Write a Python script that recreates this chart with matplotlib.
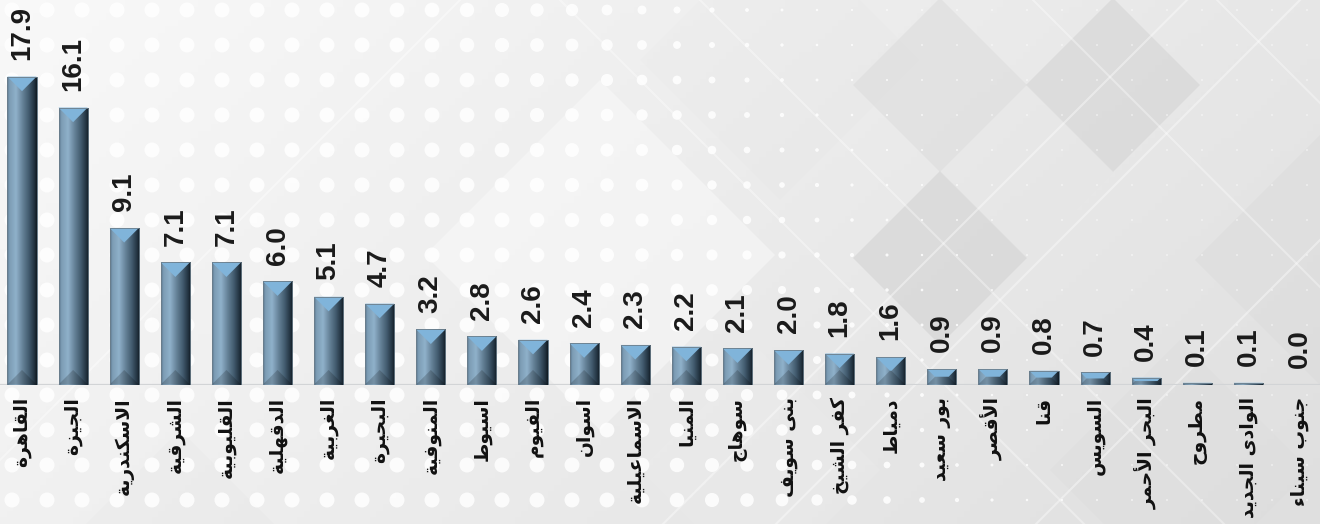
import numpy as np
import matplotlib
matplotlib.use("Agg")
import matplotlib.pyplot as plt
from matplotlib.colors import LinearSegmentedColormap
from matplotlib.patches import Polygon

# Egyptian governorates and their values
governorates = ["القاهرة", "الجيزة", "الاسكندرية", "الشرقية", "القليوبية", "الدقهلية",
                "الغربية", "البحيرة", "المنوفية", "اسيوط", "الفيوم", "اسوان",
                "الاسماعيلية", "المنيا", "سوهاج", "بنى سويف", "كفر الشيخ", "دمياط",
                "بور سعيد", "الأقصر", "قنا", "السويس", "البحر الأحمر", "مطروح",
                "الوادى الجديد", "جنوب سيناء"]
values = [17.9, 16.1, 9.1, 7.1, 7.1, 6.0, 5.1, 4.7, 3.2, 2.8, 2.6, 2.4, 2.3,
          2.2, 2.1, 2.0, 1.8, 1.6, 0.9, 0.9, 0.8, 0.7, 0.4, 0.1, 0.1, 0.0]

# --- small Arabic shaper: contextual forms + right-to-left order ---
BASE = {'ء': 0xFE80, 'آ': 0xFE81, 'أ': 0xFE83, 'ؤ': 0xFE85, 'إ': 0xFE87, 'ئ': 0xFE89,
        'ا': 0xFE8D, 'ب': 0xFE8F, 'ة': 0xFE93, 'ت': 0xFE95, 'ث': 0xFE99, 'ج': 0xFE9D,
        'ح': 0xFEA1, 'خ': 0xFEA5, 'د': 0xFEA9, 'ذ': 0xFEAB, 'ر': 0xFEAD, 'ز': 0xFEAF,
        'س': 0xFEB1, 'ش': 0xFEB5, 'ص': 0xFEB9, 'ض': 0xFEBD, 'ط': 0xFEC1, 'ظ': 0xFEC5,
        'ع': 0xFEC9, 'غ': 0xFECD, 'ف': 0xFED1, 'ق': 0xFED5, 'ك': 0xFED9, 'ل': 0xFEDD,
        'م': 0xFEE1, 'ن': 0xFEE5, 'ه': 0xFEE9, 'و': 0xFEED, 'ى': 0xFEEF, 'ي': 0xFEF1}
DUAL = set('ئبتثجحخسشصضطظعغفقكلمنهي')
RIGHT = set('آأؤإاةدذرزوى')
LAM_ALEF = {'ا': 0xFEFB, 'أ': 0xFEF7, 'إ': 0xFEF9, 'آ': 0xFEF5}


def shape(text):
    units = []
    i = 0
    while i < len(text):
        c = text[i]
        if c == 'ل' and i + 1 < len(text) and text[i + 1] in LAM_ALEF:
            units.append(('lig', text[i + 1]))
            i += 2
        else:
            units.append(('ch', c))
            i += 1

    def dual(u):
        return u[0] == 'ch' and u[1] in DUAL

    def joins(u):
        return u[0] == 'lig' or u[1] in DUAL or u[1] in RIGHT

    out = []
    for k, u in enumerate(units):
        prev = k > 0 and dual(units[k - 1])
        nxt = k + 1 < len(units) and dual(u) and joins(units[k + 1])
        if u[0] == 'lig':
            out.append(chr(LAM_ALEF[u[1]] + (1 if prev else 0)))
        elif u[1] in BASE:
            if u[1] in DUAL:
                form = 3 if (prev and nxt) else 1 if prev else 2 if nxt else 0
            elif u[1] in RIGHT:
                form = 1 if prev else 0
            else:
                form = 0
            out.append(chr(BASE[u[1]] + form))
        else:
            out.append(u[1])
    return ''.join(reversed(out))


W, H = 1320, 524
fig = plt.figure(figsize=(W / 100, H / 100), dpi=100)

# --- background: soft gray gradient, diamonds, diagonal lines, dot grid ---
bg = fig.add_axes([0, 0, 1, 1], zorder=0)
bg.set_xlim(0, W)
bg.set_ylim(H, 0)
bg.axis('off')
gx, gy = np.meshgrid(np.linspace(0, 1, 200), np.linspace(0, 1, 80))
shade = 0.975 - 0.07 * gx - 0.03 * gy
bg.imshow(np.dstack([shade, shade, shade]), extent=(0, W, H, 0), aspect='auto', zorder=0)

diamonds = [  # (cx, cy, half diagonal, gray, alpha)
    (600, 255, 175, 0.99, 0.45),
    (780, 60, 140, 0.90, 0.22),
    (940, 85, 87, 0.86, 0.5),
    (1113, 85, 87, 0.82, 0.5),
    (940, 258, 87, 0.81, 0.5),
    (1027, 172, 87, 0.90, 0.3),
    (1320, 260, 125, 0.85, 0.4),
    (1180, 470, 130, 0.86, 0.3),
    (760, 470, 120, 0.93, 0.3),
    (180, 560, 130, 0.90, 0.3),
]
for cx, cy, r, g, a in diamonds:
    bg.add_patch(Polygon([(cx, cy - r), (cx + r, cy), (cx, cy + r), (cx - r, cy)],
                         closed=True, facecolor=(g, g, g), alpha=a, lw=0, zorder=1))

for c in [460, 1187, 1300, 1560]:
    bg.plot([c - H, c], [H, 0], color='white', lw=1.5, alpha=0.4, zorder=2)
for c in [1033, 1217, 560, 700]:
    bg.plot([c, c + H], [0, H], color='white', lw=1.5, alpha=0.35, zorder=2)

dx, dy = np.meshgrid(12 + 35 * np.arange(38), 10 + 35 * np.arange(15))
dx, dy = dx.ravel(), dy.ravel()
diam = 1.5 + 13.5 / (1 + np.exp((dx - (650 + 0.45 * dy)) / 60))
bg.scatter(dx, dy, s=(diam * 0.72) ** 2, color='white', alpha=0.85, lw=0, zorder=3)

# --- main bar axes ---
ax = fig.add_axes([0, 0.2662, 1, 0.7338], zorder=1)
ax.patch.set_alpha(0)
n = len(values)
x = np.arange(n)
ax.set_xlim(-22 / 51.1, (W - 22) / 51.1)
ax.set_ylim(0, 384.5 / 17.2)
for s in ax.spines.values():
    s.set_visible(False)
ax.set_xticks([])
ax.set_yticks([])
ax.axhline(0, color='#d2d4d6', lw=1.6, zorder=1)

bar_w = 0.57
bars = ax.bar(x, values, bar_w, color='#5e7d95', edgecolor='#6c7e8b', lw=0.6, zorder=2)

p0 = ax.transData.transform((0, 0))
p1 = ax.transData.transform((1, 1))
sx, sy = p1 - p0

body = LinearSegmentedColormap.from_list('body', [
    (0.0, '#5b7890'), (0.08, '#7d9db5'), (0.3, '#8fb1ca'), (0.5, '#6a879d'),
    (0.75, '#3f586b'), (0.92, '#22323f'), (1.0, '#101a22')])
grad = np.linspace(0, 1, 64).reshape(1, -1)

for rect, v in zip(bars, values):
    if v <= 0:
        continue
    x0 = rect.get_x()
    x1 = x0 + rect.get_width()
    h = rect.get_height()
    ax.imshow(grad, cmap=body, extent=(x0, x1, 0, h), aspect='auto',
              clip_path=rect, zorder=2.1)
    b_px = min(rect.get_width() * sx / 2, h * sy / 2)
    bx, by = b_px / sx, b_px / sy
    ax.add_patch(Polygon([(x0, h), (x1, h), (x1 - bx, h - by), (x0 + bx, h - by)],
                         facecolor='#80b4da', lw=0, zorder=2.2))
    ax.add_patch(Polygon([(x0, 0), (x1, 0), (x1 - bx, by), (x0 + bx, by)],
                         facecolor='black', alpha=0.18, lw=0, zorder=2.2))
    ax.add_patch(Polygon([(x0, 0), (x0, h), (x1, h), (x1, 0)], closed=True, fill=False,
                         edgecolor='#6c7e8b', lw=0.6, zorder=2.3))

for xi, v, name in zip(x, values, governorates):
    ax.annotate(f'{v:.1f}', (xi, v), xytext=(0, 12), textcoords='offset points',
                rotation=90, ha='center', va='bottom', fontsize=20, fontweight='bold',
                family='Liberation Sans', color='#1a1a1a', zorder=4)
    ax.annotate(shape(name), (xi, 0), xytext=(0, -9), textcoords='offset points',
                rotation=90, ha='center', va='top', fontsize=13.5, fontweight='bold',
                family='DejaVu Sans', color='#111111', annotation_clip=False, zorder=4)

fig.savefig('out.png', dpi=100)
